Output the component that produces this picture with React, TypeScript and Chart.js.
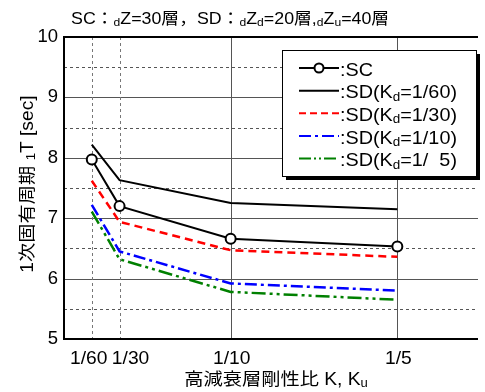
import React, { useEffect, useRef } from "react";
import { Chart, registerables } from "chart.js";

Chart.register(...registerables);

const xValues = [1 / 60, 1 / 30, 1 / 10, 1 / 5];
const xTickLabels = ["1/60", "1/30", "1/10", "1/5"];
const scValues = [7.97, 7.2, 6.66, 6.53];
const sd60Values = [8.22, 7.63, 7.25, 7.15];
const sd30Values = [7.62, 6.94, 6.47, 6.36];
const sd10Values = [7.22, 6.45, 5.92, 5.8];
const sd5Values = [7.11, 6.32, 5.78, 5.65];
const yMin = 5;
const yMax = 10;

// label nudges (style only) so that 1/60 and 1/30 do not overlap
const xLabelNudge = [-3, 11, 1, 1];

const FONT = '"Liberation Sans", Arial, "Noto Sans CJK JP", sans-serif';
const SX = 1.1;

type Seg = { t: string; sub?: boolean };

function segsWidth(ctx: CanvasRenderingContext2D, segs: Seg[], size: number) {
  let w = 0;
  for (const s of segs) {
    ctx.font = `${s.sub ? size * 0.68 : size}px ${FONT}`;
    w += ctx.measureText(s.t).width;
  }
  return w * SX;
}

function drawSegs(ctx: CanvasRenderingContext2D, segs: Seg[], x: number, y: number, size: number) {
  ctx.save();
  ctx.translate(x, y);
  ctx.scale(SX, 1);
  let cx = 0;
  for (const s of segs) {
    const fs = s.sub ? size * 0.68 : size;
    ctx.font = `${fs}px ${FONT}`;
    ctx.fillText(s.t, cx, s.sub ? size * 0.14 : 0);
    cx += ctx.measureText(s.t).width;
  }
  ctx.restore();
}

const toPts = (arr: number[]) => arr.map((v, i) => ({ x: xValues[i], y: v }));

const legendItems: { segs: Seg[]; color: string; dash: number[]; marker?: boolean }[] = [
  { segs: [{ t: ":SC" }], color: "#000", dash: [], marker: true },
  { segs: [{ t: ":SD(K" }, { t: "d", sub: true }, { t: "=1/60)" }], color: "#000", dash: [] },
  { segs: [{ t: ":SD(K" }, { t: "d", sub: true }, { t: "=1/30)" }], color: "#ff0000", dash: [7, 4] },
  { segs: [{ t: ":SD(K" }, { t: "d", sub: true }, { t: "=1/10)" }], color: "#0000ff", dash: [12, 4, 3, 4] },
  { segs: [{ t: ":SD(K" }, { t: "d", sub: true }, { t: "=1/  5)" }], color: "#008000", dash: [12, 3, 2, 3, 2, 3] },
];

const decorPlugin = {
  id: "decor",
  beforeDatasetsDraw(chart: any) {
    const { ctx, chartArea: a, scales } = chart;
    const xs = scales.x;
    const ys = scales.y;
    ctx.save();
    ctx.lineWidth = 1;
    ctx.strokeStyle = "#555";
    for (let v = 5.5; v < 10; v += 0.5) {
      const py = Math.round(ys.getPixelForValue(v)) + 0.5;
      ctx.setLineDash(Number.isInteger(v) ? [] : [3, 3]);
      ctx.beginPath();
      ctx.moveTo(a.left, py);
      ctx.lineTo(a.right, py);
      ctx.stroke();
    }
    xValues.forEach((v, i) => {
      const px = Math.round(xs.getPixelForValue(v)) + 0.5;
      ctx.setLineDash(i < 2 ? [3, 3] : []);
      ctx.strokeStyle = i < 2 ? "#777" : "#555";
      ctx.beginPath();
      ctx.moveTo(px, a.top);
      ctx.lineTo(px, a.bottom);
      ctx.stroke();
    });
    ctx.restore();
  },
  afterDraw(chart: any) {
    const { ctx, chartArea: a, scales } = chart;
    ctx.save();
    ctx.strokeStyle = "#000";
    ctx.lineWidth = 2;
    ctx.setLineDash([]);
    ctx.beginPath();
    ctx.moveTo(a.right, a.top);
    ctx.lineTo(a.left, a.top);
    ctx.lineTo(a.left, a.bottom);
    ctx.lineTo(a.right, a.bottom);
    ctx.stroke();

    ctx.fillStyle = "#000";
    ctx.textBaseline = "alphabetic";
    ctx.textAlign = "left";

    // title
    drawSegs(
      ctx,
      [
        { t: "SC：" },
        { t: "d", sub: true },
        { t: "Z=30層，SD：" },
        { t: "d", sub: true },
        { t: "Z" },
        { t: "d", sub: true },
        { t: "=20層," },
        { t: "d", sub: true },
        { t: "Z" },
        { t: "u", sub: true },
        { t: "=40層" },
      ],
      71,
      24,
      16.2
    );

    // x tick labels
    xValues.forEach((v, i) => {
      const seg: Seg[] = [{ t: xTickLabels[i] }];
      const w = segsWidth(ctx, seg, 17.5);
      const px = scales.x.getPixelForValue(v) + xLabelNudge[i];
      drawSegs(ctx, seg, px - w / 2, 364, 17.5);
    });

    // x title
    const xt: Seg[] = [{ t: "高減衰層剛性比 K, K" }, { t: "u", sub: true }];
    const xw = segsWidth(ctx, xt, 17.5);
    drawSegs(ctx, xt, 276 - xw / 2, 385, 17.5);

    // y title
    const yt: Seg[] = [{ t: "1次固有周期 " }, { t: "1", sub: true }, { t: "T [sec]" }];
    const yw = segsWidth(ctx, yt, 17.5);
    ctx.save();
    ctx.translate(33, 184);
    ctx.rotate(-Math.PI / 2);
    drawSegs(ctx, yt, -yw / 2, 0, 17.5);
    ctx.restore();

    // legend
    const bx = 282, by = 50, bw = 194, bh = 126;
    ctx.fillStyle = "#000";
    ctx.fillRect(bx + 4, by + 4, bw, bh);
    ctx.fillStyle = "#fff";
    ctx.fillRect(bx, by, bw, bh);
    ctx.strokeStyle = "#000";
    ctx.lineWidth = 1;
    ctx.strokeRect(bx + 0.5, by + 0.5, bw, bh);
    const rows = [68, 90.7, 113.3, 136, 158.6];
    legendItems.forEach((it, i) => {
      const y = rows[i];
      ctx.strokeStyle = it.color;
      ctx.lineWidth = 2;
      ctx.setLineDash(it.dash);
      ctx.beginPath();
      ctx.moveTo(299, y);
      ctx.lineTo(339, y);
      ctx.stroke();
      ctx.setLineDash([]);
      if (it.marker) {
        ctx.fillStyle = "#fff";
        ctx.beginPath();
        ctx.arc(319, y, 4.5, 0, Math.PI * 2);
        ctx.fill();
        ctx.stroke();
      }
      ctx.fillStyle = "#000";
      drawSegs(ctx, it.segs, 340, y + 7.5, 18);
    });
    ctx.restore();
  },
};

export default function App() {
  const ref = useRef<HTMLCanvasElement>(null);
  useEffect(() => {
    if (!ref.current) return;
    const chart = new Chart(ref.current, {
      type: "line",
      data: {
        datasets: [
          { label: "SD5", data: toPts(sd5Values), borderColor: "#008000", borderWidth: 2.5, borderDash: [14, 4, 3, 4, 3, 4], pointRadius: 0 },
          { label: "SD10", data: toPts(sd10Values), borderColor: "#0000ff", borderWidth: 2.5, borderDash: [12, 4, 3, 4], pointRadius: 0 },
          { label: "SD30", data: toPts(sd30Values), borderColor: "#ff0000", borderWidth: 2.5, borderDash: [8, 5], pointRadius: 0 },
          { label: "SD60", data: toPts(sd60Values), borderColor: "#000", borderWidth: 2, pointRadius: 0 },
          {
            label: "SC",
            data: toPts(scValues),
            borderColor: "#000",
            borderWidth: 2,
            pointRadius: 5,
            pointBorderWidth: 2,
            pointBackgroundColor: "#fff",
            pointBorderColor: "#000",
          },
        ] as any,
      },
      options: {
        animation: false,
        responsive: false,
        layout: { padding: { top: 37, left: 0, right: 0, bottom: 0 } },
        plugins: { legend: { display: false }, title: { display: false }, tooltip: { enabled: false } },
        scales: {
          x: {
            type: "linear",
            min: 0,
            max: 0.2484,
            afterBuildTicks: (axis: any) => {
              axis.ticks = xValues.map((v) => ({ value: v }));
            },
            afterFit: (s: any) => {
              s.height = 53;
            },
            grid: { display: false, drawTicks: false },
            border: { display: false },
            ticks: { display: false },
          },
          y: {
            type: "linear",
            min: yMin,
            max: yMax,
            afterFit: (s: any) => {
              s.width = 64;
            },
            grid: { display: false, drawTicks: false },
            border: { display: false },
            ticks: { stepSize: 1, padding: 6, color: "#000", font: { size: 18.5, family: FONT } },
          },
        },
      },
      plugins: [decorPlugin],
    });
    return () => chart.destroy();
  }, []);
  return (
    <div style={{ position: "fixed", left: 0, top: 0, width: 485, height: 392, background: "#fff" }}>
      <canvas ref={ref} width={485} height={392} />
    </div>
  );
}
